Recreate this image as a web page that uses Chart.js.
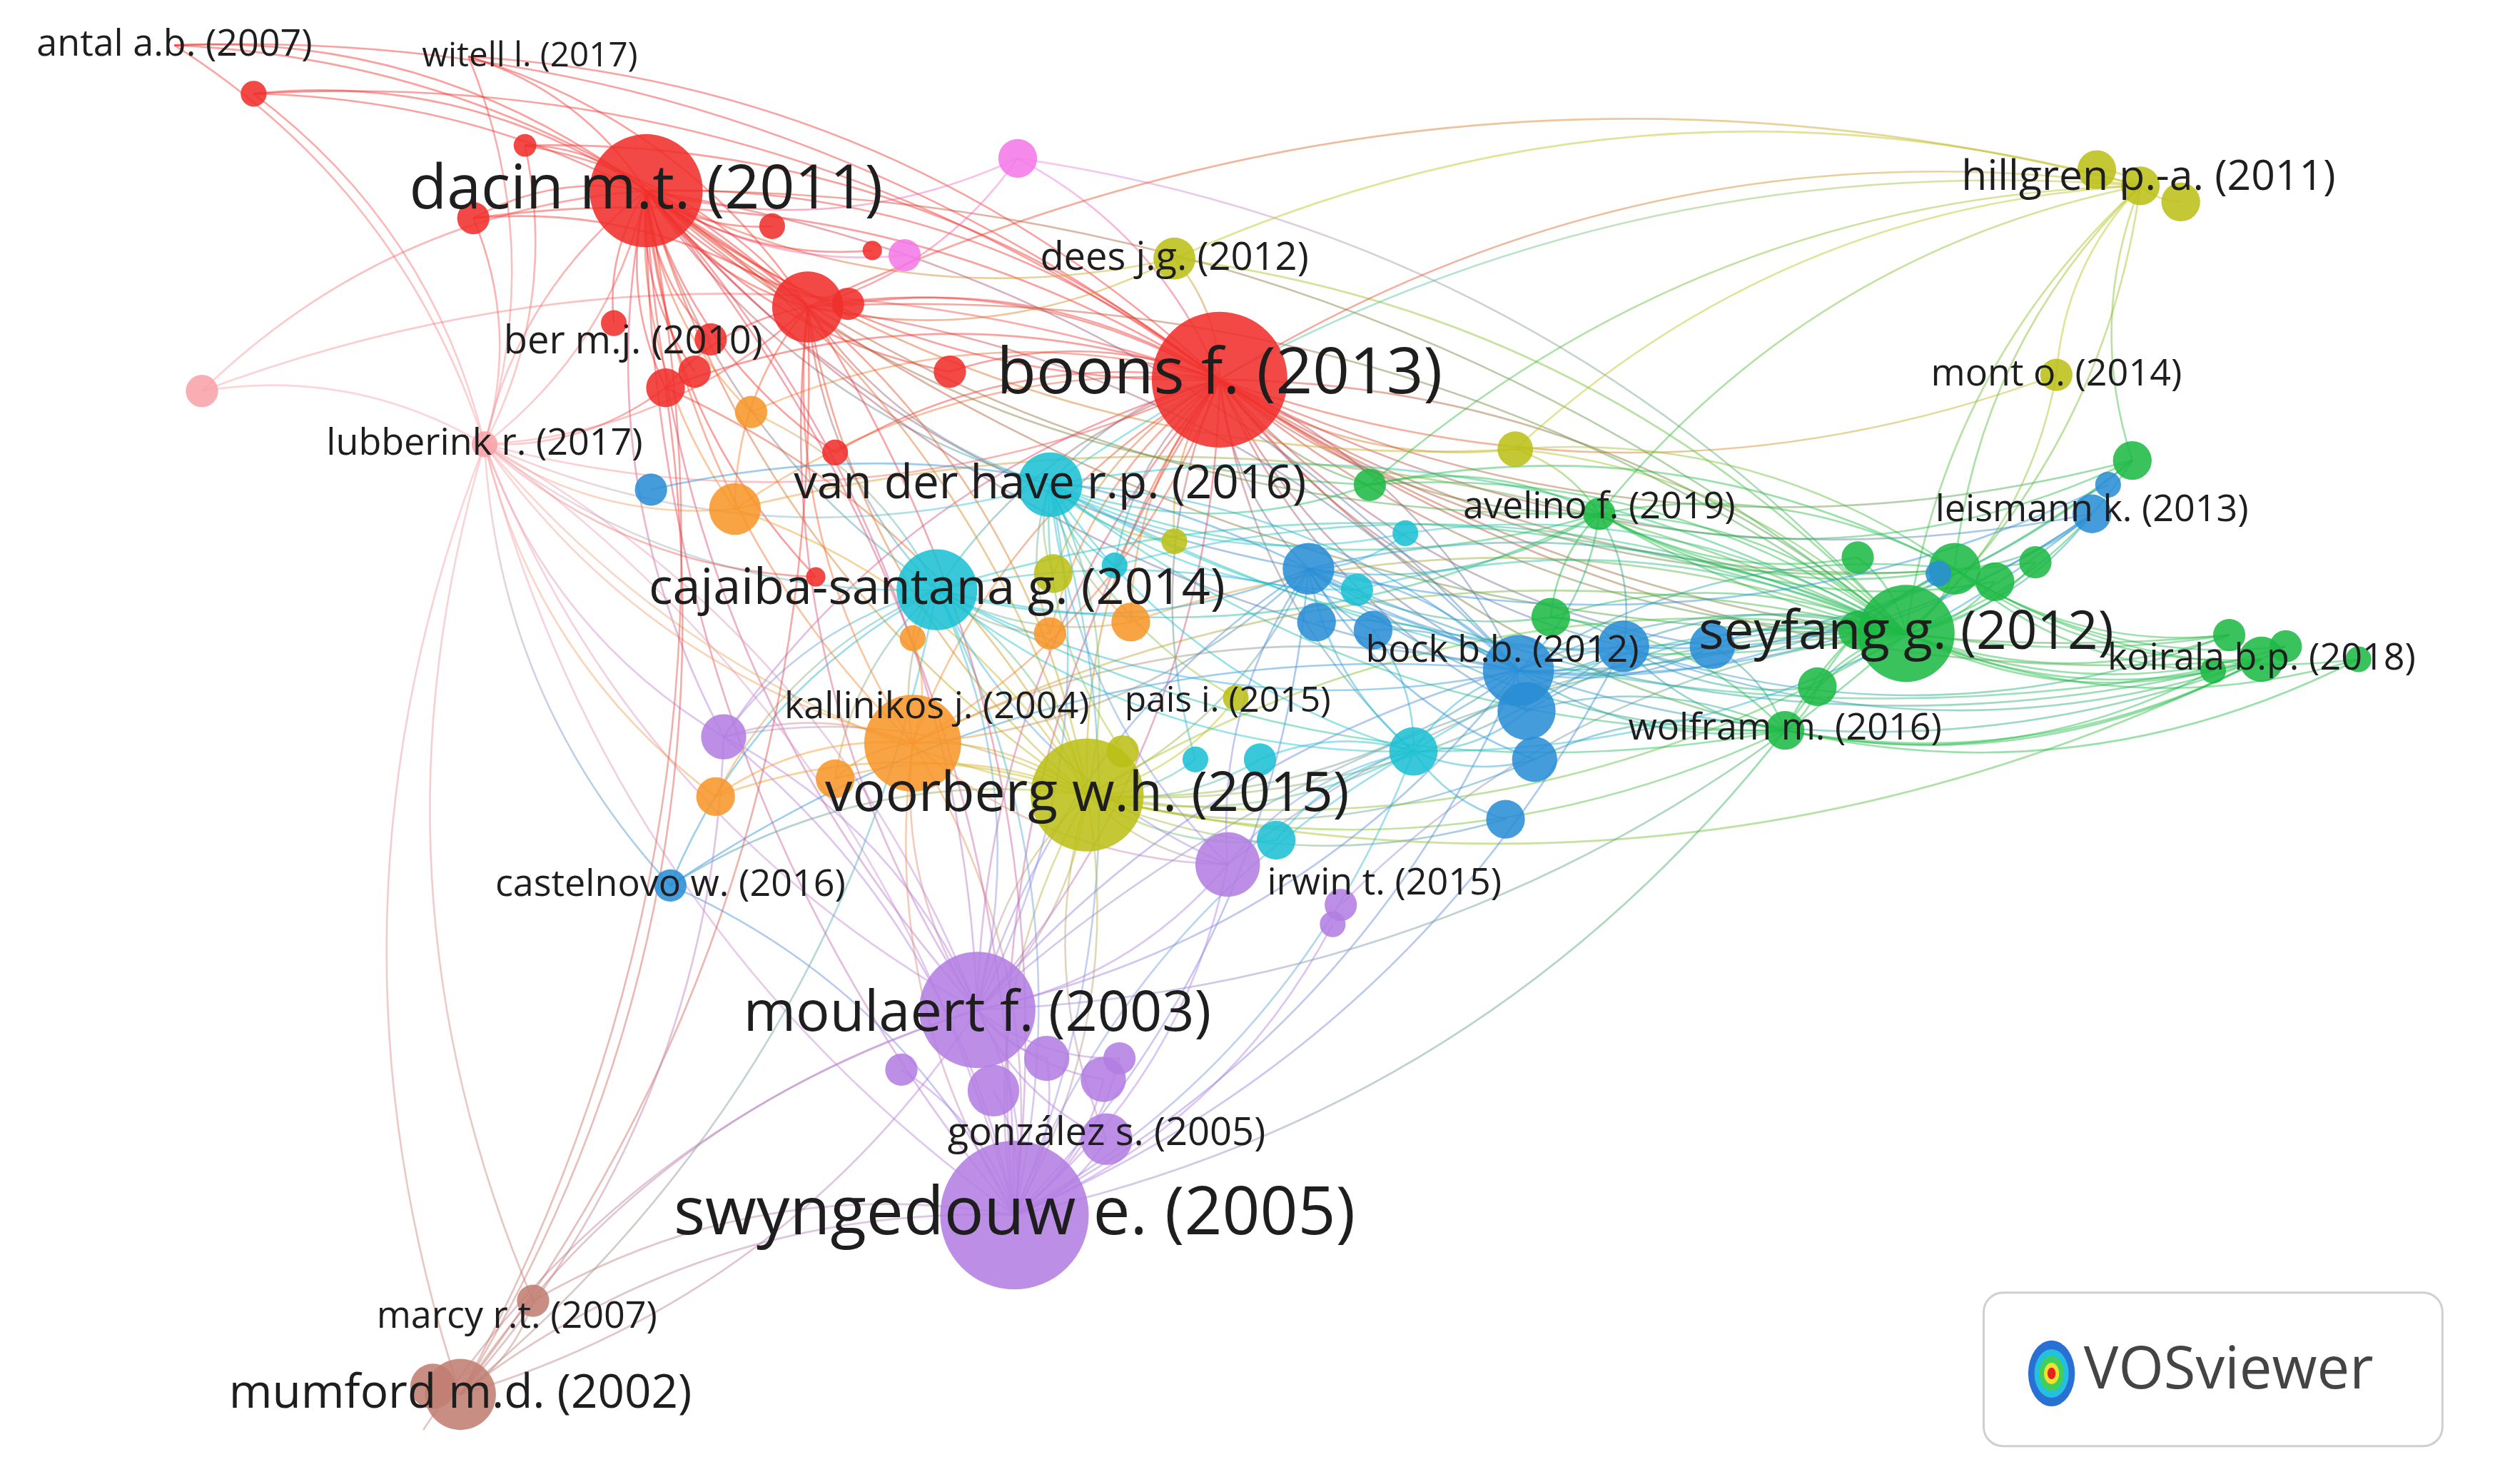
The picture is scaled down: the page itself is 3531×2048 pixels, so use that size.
<!DOCTYPE html>
<html><head><meta charset="utf-8">
<script src="https://cdn.jsdelivr.net/npm/chart.js@4/dist/chart.umd.min.js"></script>
<style>html,body{margin:0;padding:0;background:#fff}#w{width:3531px;height:2048px}</style>
</head><body><div id="w"><canvas id="c"></canvas></div>
<script>
const S = 3531/1560;
const COLORS = {red:'#f0302c',pink:'#f47ae8',lpink:'#f8a3a8',orange:'#f7962a',yellow:'#bcc018',cyan:'#1cc0d4',blue:'#2a8ed6',green:'#1fba46',purple:'#b37ee2',brown:'#c27e72'};
const nodeX = [400,755,628,605,673,1180,580,650,285,500,565,940,1325,108,157,300,330,1400,1295,990,760,415,727,1273,1105,412,685,290,125,630,455,1320,810,875,938,1005,848,448,443,1350,1210,
 325,293,430,525,588,478,540,517,505,440,380,560,465,517,700,650,565,1298,652,727,695,765,690,790,780,740,840,870,403,850,945,1060,1305,932,815,950,1200,1150,1235,1260,1380,1415,1460,1370,1125,960,1150,830,825,683,648,693,558,615,262,268];
const nodeY = [118,235,752,625,492,392,365,300,863,190,460,415,115,28,58,275,805,408,318,318,535,548,160,232,452,240,705,35,242,98,315,285,352,465,278,400,300,456,493,125,352,
 90,135,230,188,230,140,155,280,357,210,200,158,255,482,385,392,395,105,355,335,465,432,350,520,470,470,365,330,303,390,440,400,300,507,385,470,355,345,360,348,393,400,408,415,425,382,390,560,572,668,655,655,662,675,885,858];
const nodeR = [35,42,46,36,35,30,25,20,22,22,30,22,12,9,8,8,10,14,12,10,20,10,13,10,12,12,16,7,10,12,16,12,16,15,11,16,10,14,12,12,16,
 7,10,10,10,10,8,6,8,6,10,8,10,10,12,12,10,8,12,12,8,10,8,8,12,10,8,10,8,10,12,18,14,8,12,12,14,8,10,12,10,10,10,8,8,12,12,12,10,8,14,14,10,10,16,12,14];
const nodeC = ['red','red','purple','purple','yellow','green','cyan','cyan','brown','red','orange','blue','yellow','red','red','lpink','brown','green','blue','green','purple','blue','yellow','yellow','green','red','purple','red','lpink','pink','orange','green','blue','cyan','yellow','blue','green','purple','orange','yellow','green',
 'red','red','red','red','red','red','red','red','red','red','red','pink','orange','orange','orange','orange','orange','yellow','yellow','yellow','yellow','yellow','cyan','cyan','cyan','cyan','cyan','cyan','blue','blue','blue','blue','blue','blue','blue','blue','blue','green','green','green','green','green','green','green','green','green','green','purple','purple','purple','purple','purple','purple','purple','brown','brown'];
const labelNode = [0,1,2,3,4,5,6,7,8,12,13,27,22,25,15,23,19,18,11,17,24,10,62,21,20,26,16];
const labelText = ['dacin m.t. (2011)','boons f. (2013)','swyngedouw e. (2005)','moulaert f. (2003)','voorberg w.h. (2015)','seyfang g. (2012)','cajaiba-santana g. (2014)','van der have r.p. (2016)','mumford m.d. (2002)','hillgren p.-a. (2011)','antal a.b. (2007)','witell l. (2017)','dees j.g. (2012)','ber m.j. (2010)','lubberink r. (2017)','mont o. (2014)','avelino f. (2019)','leismann k. (2013)','bock b.b. (2012)','koirala b.p. (2018)','wolfram m. (2016)','kallinikos j. (2004)','pais i. (2015)','castelnovo w. (2016)','irwin t. (2015)','gonzález s. (2005)','marcy r.t. (2007)'];
const labelSize = [38,40,41,35,34,33,31,29,29,26,23,21,24,24,23,23,23,23,23,23,23,23,22,23,23,24,23];
const labelDx = [0,0,0,0,0,0,0,0,0,5,0,38,0,-20,0,0,0,0,-10,0,0,15,-5,0,97,0,-10];
const labelDy = [0,-3,0,3,0,0,0,0,0,-5,0,0,0,-28,0,0,-4,-2,-12,0,-1,-22,2,0,12,-3,10];
const linkHub = [1,0,5,4,2,3,15,11,12,9,6,8,7,32,40,10,35,33,24,19];
const linkTargets = [
 [0,9,7,6,4,5,11,19,22,34,36,32,29,25,30,14,13,40,18,35,3,2,31,23,10,33,44,45,48,60,63,66,17,24,41,42,27,28,37,53,55,56,59,71,72,80,81],
 [13,14,27,9,25,15,28,1,7,6,29,30,10,4,3,37,22,41,42,43,46,47,50,51,52,44,45,48,49,53,2,11,32,5,34,36,19],
 [17,18,19,24,31,35,11,40,36,4,7,6,32,33,34,12,23,1,10,78,79,80,81,82,83,84,85,86,87,88,71,72,0,9,22,55,63,67,68,3,20,30,29],
 [2,3,20,21,10,6,7,11,33,26,32,35,64,65,66,74,76,0,9,25,30,37,38,54,62,5,24,17],
 [8,16,3,26,20,15,37,10,6,21,89,90,91,92,93,94,7,32,11,33,0,9,4,24,35],
 [26,20,4,6,37,15,8,95,92,91,90,7,0,1,11,5],
 [8,16,9,0,25,6,30,37,21,2,3,28,14,38,49,41,42,1,4,7,10,13,27],
 [17,24,31,18,32,33,35,19,21,70,71,72,75,77,6,7,10,1,0,9],
 [39,19,34,36,5,22,58,23,1,7,9,40,31],
 [13,27,14,25,29,22,6,30,41,42,4,7,10,3],
 [10,21,37,38,32,11,53,54,55,56,57,20,33,24,19],
 [16,9,3,37,96,0,25,6],
 [55,56,59,60,61,62,63,67,68,36,19,33,24,5,17,20],
 [33,35,67,68,69,70,73,76,86,19,24,17,3,20],
 [17,81,82,83,84,85,24,18,19,36,34,11],
 [37,38,54,57,20,3,2,1,32],
 [17,24,18,31,19,81,85,86,3],
 [70,71,74,64,65,76,20,2,18],
 [17,82,83,84,85,86,71,72,76],
 [31,40,78,79,81,34,36,86]
];
function hexA(h,a){const n=parseInt(h.slice(1),16);return `rgba(${n>>16},${(n>>8)&255},${n&255},${a})`;}
const pts = nodeX.map((x,i)=>({x, y:nodeY[i], r:nodeR[i]*S}));
const linkPlugin = {id:'links', beforeDatasetsDraw(ch){
  const c=ch.ctx, xs=ch.scales.x, ys=ch.scales.y;
  c.save(); c.lineWidth=2.6;
  linkHub.forEach((h,k)=>{ linkTargets[k].forEach(t=>{
    const x1=xs.getPixelForValue(nodeX[h]),y1=ys.getPixelForValue(nodeY[h]);
    const x2=xs.getPixelForValue(nodeX[t]),y2=ys.getPixelForValue(nodeY[t]);
    const mx=(x1+x2)/2,my=(y1+y2)/2,dx=x2-x1,dy=y2-y1;
    const g=c.createLinearGradient(x1,y1,x2,y2);
    g.addColorStop(0,hexA(COLORS[nodeC[h]],0.45)); g.addColorStop(1,hexA(COLORS[nodeC[t]],0.45));
    c.strokeStyle=g; c.beginPath(); c.moveTo(x1,y1);
    c.quadraticCurveTo(mx-dy*0.18,my+dx*0.18,x2,y2); c.stroke();
  });});
  c.restore();
}};
const labelPlugin = {id:'labels', afterDatasetsDraw(ch){
  const c=ch.ctx, xs=ch.scales.x, ys=ch.scales.y;
  c.save(); c.textAlign='center'; c.textBaseline='middle'; c.fillStyle='#1e1e1e';
  labelNode.forEach((n,i)=>{
    c.font=`${labelSize[i]*S}px "Open Sans", sans-serif`;
    c.fillText(labelText[i], xs.getPixelForValue(nodeX[n]+labelDx[i]), ys.getPixelForValue(nodeY[n]+labelDy[i]));
  });
  const bx=1228*S,by=800*S,bw=284*S,bh=95*S,rr=12*S;
  c.beginPath(); c.roundRect(bx,by,bw,bh,rr); c.fillStyle='#fff'; c.fill();
  c.strokeStyle='#cfcfcf'; c.lineWidth=3; c.stroke();
  const ix=1270*S, iy=850*S;
  [['#2a6fd4',17],['#25c0e0',12.5],['#3fcf5a',9],['#f0e030',5.5],['#e82020',3]].forEach(([col,r])=>{
    c.fillStyle=col; c.beginPath(); c.ellipse(ix,iy,r*S*0.85,r*S*1.2,0,0,Math.PI*2); c.fill();
  });
  c.fillStyle='#444'; c.textAlign='left'; c.font=`${36*S}px "Open Sans", sans-serif`;
  c.fillText('VOSviewer',1290*S,849*S);
  c.restore();
}};
const chart = new Chart(document.getElementById('c'),{
  type:'bubble',
  data:{datasets:[{data:pts,clip:false,
    backgroundColor:ctx=>hexA(COLORS[nodeC[ctx.dataIndex]]||'#ccc',0.88),
    borderWidth:0}]},
  options:{responsive:true,maintainAspectRatio:false,animation:false,devicePixelRatio:1,
    layout:{padding:0},
    plugins:{legend:{display:false},tooltip:{enabled:false}},
    scales:{x:{type:'linear',min:0,max:1560,display:false},y:{type:'linear',min:0,max:905,reverse:true,display:false}}},
  plugins:[linkPlugin,labelPlugin]
});
const ca = chart.chartArea;
chart.options.scales.x.min = ca.left/S; chart.options.scales.x.max = (ca.left+ca.width)/S;
chart.options.scales.y.min = ca.top/S; chart.options.scales.y.max = (ca.top+ca.height)/S;
chart.update();
</script></body></html>
